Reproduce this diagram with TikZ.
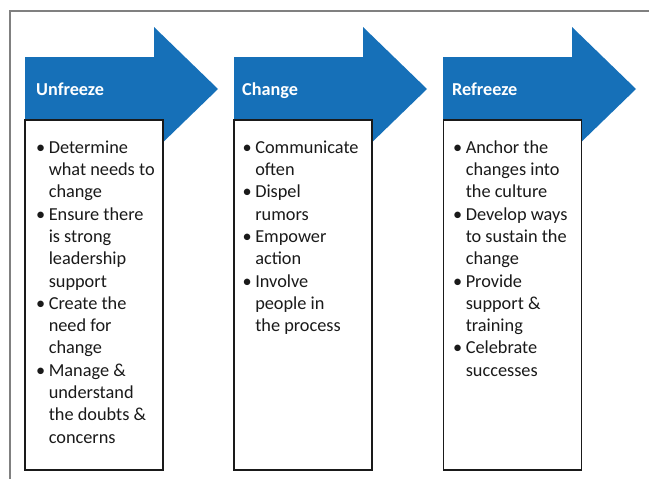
\documentclass[tikz,border=0pt]{standalone}
\usepackage{fontspec}
\setmainfont{Carlito}
\definecolor{stepblue}{RGB}{22,112,184}
\definecolor{framegray}{RGB}{128,128,128}
\definecolor{textdark}{RGB}{26,26,26}
\tikzset{
  stage/.style={draw=textdark, fill=white, line width=1.1pt, minimum width=138pt, minimum height=350pt, inner sep=0pt},
  heading/.style={anchor=base west, text=white, font=\fontsize{18.2}{22}\selectfont\bfseries, inner sep=0pt},
  items/.style={anchor=north west, text=textdark, font=\fontsize{18.3}{22.3}\selectfont, inner sep=0pt, align=left}
}
\newcommand{\bul}{\textbullet}
\begin{document}
\begin{tikzpicture}[x=1pt,y=-1pt]
\useasboundingbox (0,0) rectangle (649,479);
\draw[framegray, line width=1.3pt] (649,11) -- (10,11) -- (10,479);

% arrows
\fill[stepblue] (25,57) -- (154,57) -- (154,27) -- (218,89) -- (154,151) -- (154,121) -- (25,121) -- cycle;
\fill[stepblue] (234,57) -- (363,57) -- (363,27) -- (427,89) -- (363,151) -- (363,121) -- (234,121) -- cycle;
\fill[stepblue] (443,57) -- (572,57) -- (572,27) -- (636,89) -- (572,151) -- (572,121) -- (443,121) -- cycle;

\node[heading] (h1) at (36,95) {Unfreeze};
\node[heading] (h2) at (242,95) {Change};
\node[heading] (h3) at (452,95) {Refreeze};

% boxes
\node[stage] (b1) at (94,295) {};
\node[stage] (b2) at (303,295) {};
\node[stage] (b3) at (512.5,295) {};

\node[items] (t1) at ([xshift=11.5pt,yshift=-18pt]b1.north west) {%
\begin{tabular}{@{}l@{\hspace{3.5pt}}l@{}}
\bul & Determine\\ & what needs to\\ & change\\
\bul & Ensure there\\ & is strong\\ & leadership\\ & support\\
\bul & Create the\\ & need for\\ & change\\
\bul & Manage \&\\ & understand\\ & the doubts \&\\ & concerns
\end{tabular}};
\node[items] (t2) at ([xshift=9pt,yshift=-18pt]b2.north west) {%
\begin{tabular}{@{}l@{\hspace{3.5pt}}l@{}}
\bul & Communicate\\ & often\\
\bul & Dispel\\ & rumors\\
\bul & Empower\\ & action\\
\bul & Involve\\ & people in\\ & the process
\end{tabular}};
\node[items] (t3) at ([xshift=10pt,yshift=-18pt]b3.north west) {%
\begin{tabular}{@{}l@{\hspace{3.5pt}}l@{}}
\bul & Anchor the\\ & changes into\\ & the culture\\
\bul & Develop ways\\ & to sustain the\\ & change\\
\bul & Provide\\ & support \&\\ & training\\
\bul & Celebrate\\ & successes
\end{tabular}};
\end{tikzpicture}
\end{document}
